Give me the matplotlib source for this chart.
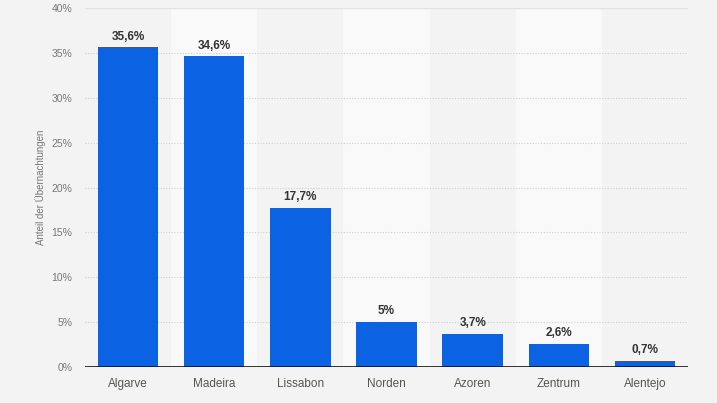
import matplotlib
matplotlib.use('Agg')
import matplotlib.pyplot as plt

## data
regions = ['Algarve', 'Madeira', 'Lissabon', 'Norden', 'Azoren', 'Zentrum', 'Alentejo']
share = [35.6, 34.6, 17.7, 5.0, 3.7, 2.6, 0.7]
share_labels = ['35,6%', '34,6%', '17,7%', '5%', '3,7%', '2,6%', '0,7%']
yticks = [0, 5, 10, 15, 20, 25, 30, 35, 40]

bg = '#f3f3f3'
plt.rcParams['font.family'] = ['Liberation Sans', 'DejaVu Sans']

fig = plt.figure(figsize=(7.17, 4.03), dpi=100, facecolor=bg)
ax = fig.add_axes([85 / 717, 36 / 403, 603 / 717, 359 / 403])
ax.set_facecolor(bg)

x = list(range(len(regions)))

# alternating column stripes
for i in x:
    if i % 2 == 1:
        ax.axvspan(i - 0.5, i + 0.5, color='#f9f9f9', zorder=0, lw=0)

# grid
for t in yticks[1:-1]:
    ax.axhline(t, color='#cfcfcf', lw=0.8, ls=(0, (1, 1.5)), zorder=1)
ax.axhline(yticks[-1], color='#e2e2e2', lw=1.0, zorder=1)

ax.bar(x, share, width=0.7, color='#0b63e3', zorder=2)
ax.axhline(0, color='#111111', lw=1.2, zorder=3)

for xi, v, lab in zip(x, share, share_labels):
    ax.text(xi, v + 0.55, lab, ha='center', va='bottom', fontsize=8.5,
            fontweight='bold', color='#333333', zorder=4)

ax.set_xlim(-0.5, len(regions) - 0.5)
ax.set_ylim(0, 40)
ax.set_xticks(x)
ax.set_xticklabels(regions, fontsize=8.5, color='#555555')
ax.set_yticks(yticks)
ax.set_yticklabels([f'{t}%' for t in yticks], fontsize=7.5, color='#777777')
ax.tick_params(axis='both', length=0)
ax.tick_params(axis='x', pad=8)
ax.tick_params(axis='y', pad=9)
for s in ax.spines.values():
    s.set_visible(False)

ax.set_ylabel('Anteil der Übernachtungen', fontsize=7, color='#777777', labelpad=4)

fig.savefig('out.png', dpi=100, facecolor=bg)
